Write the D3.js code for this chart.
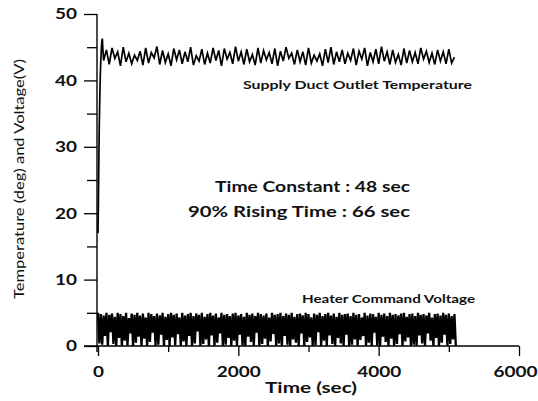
<!DOCTYPE html>
<html>
<head>
<meta charset="utf-8">
<script src="https://cdn.jsdelivr.net/npm/d3@7"></script>
<style>
  body { margin: 0; background: #fff; }
  svg text { font-family: "Lato", "DejaVu Sans", sans-serif; fill: #111; }
</style>
</head>
<body>
<script>
// tick labels
var yMajor = [0, 10, 20, 30, 40, 50];
var yMinor = [5, 15, 25, 35, 45];
var xMajor = [0, 2000, 4000, 6000];
var xMinor = [1000, 3000, 5000];

// supply duct outlet temperature: start-up (time, value)
var riseTime = [0, 6, 12, 18, 25, 32, 40, 48, 55, 62, 70];
var riseTemp = [17, 22, 28, 33, 37, 40.5, 43, 44.8, 45.9, 46.3, 44.6];
// then every 40 s from 80 s
var steadyStart = 80, steadyStep = 40;
var steadyTemp = [
  43.0,44.6,42.4,44.9,43.3,44.3,42.2,45.0,42.8,44.1,
  42.5,43.8,43.0,44.4,42.3,44.9,42.6,44.2,43.4,45.1,
  42.4,44.5,42.7,44.0,42.2,44.8,43.1,44.6,42.5,44.3,
  42.8,45.0,42.3,43.7,42.9,44.7,42.4,44.1,42.6,44.9,
  43.0,44.5,42.2,44.8,43.2,44.2,42.5,45.1,42.9,44.3,
  42.4,44.7,42.8,43.9,42.3,44.9,42.6,44.5,43.1,44.2,
  42.5,44.8,42.2,44.4,42.9,45.0,43.3,44.1,42.4,44.6,
  42.8,44.3,42.3,44.9,42.6,43.8,42.9,44.0,42.2,44.7,
  42.7,45.0,42.4,44.3,42.8,44.6,42.5,44.1,43.0,44.8,
  42.3,44.4,43.2,44.9,42.2,44.2,42.8,44.7,42.5,45.1,
  42.9,44.3,42.4,44.6,42.7,43.9,42.3,44.8,42.6,44.5,
  42.8,44.2,42.5,44.9,43.2,44.4,42.7,44.1,42.4,44.6,
  42.9,44.3,42.5,44.7,42.6,43.5
];

// heater command voltage, every 20 s from 0 s
var heaterStep = 20;
var heater = [
  5,0.4,4.8,0.2,4.6,1.5,5,0,4.7,2.1,4.9,0.3,4.4,0,5,1.2,
  4.8,0,4.5,0.8,5,0.1,4.2,1.9,4.9,0,4.7,0.5,5,1.4,4.6,0,
  4.9,1.1,4.3,0,5,0.6,4.8,2.0,4.5,0,4.9,0.2,4.6,1.7,5,0,
  4.4,0.9,4.8,0,5,1.3,4.7,0.1,4.9,1.8,4.3,0,5,0.7,4.6,0,
  4.8,1.5,5,0,4.5,0.4,4.9,2.2,4.7,0,5,0.3,4.4,1.0,4.8,0,
  5,1.6,4.6,0,4.9,0.5,4.3,1.9,5,0,4.7,0.2,4.8,1.2,4.5,0,
  4.9,0.8,5,0,4.6,1.7,4.8,0.1,4.4,0,5,1.4,4.7,0.6,4.9,0,
  4.5,2.0,5,0,4.8,0.3,4.6,1.1,4.9,0,4.3,0.7,5,1.8,4.7,0,
  4.8,0.4,5,0,4.5,1.5,4.9,0.2,4.7,0,5,1.0,4.4,0.5,4.8,0,
  4.9,1.9,4.6,0,5,0.6,4.8,1.3,4.3,0,4.9,0.1,4.7,2.1,5,0,
  4.5,0.8,4.8,0,5,1.6,4.6,0.3,4.9,0,4.4,1.2,5,0.4,4.7,0,
  4.8,1.7,4.9,0,4.5,0.2,5,1.0,4.7,0,4.8,0.9,4.3,1.5,5,0,
  4.6,0.5,4.9,0,4.8,2.0,4.4,0.1,5,0,4.7,1.4,4.9,0.6,4.5,0,
  5,1.1,4.7,0,4.8,0.3,4.6,1.8,4.9,0,5,0.7,4.4,1.3,4.8,0,
  4.9,0.2,4.5,0,5,1.6,4.7,0.4,4.8,0,4.6,1.9,5,0.8,4.3,0,
  4.8,1.2,4.9,0,4.6,0.5,5,1.7,4.7,0,4.9,0.3,4.5,1.0,4.8,0
];

var width = 538, height = 401;

var svg = d3.select("body").append("svg")
    .attr("width", width)
    .attr("height", height);

var x = d3.scaleLinear().domain([0, 6000]).range([98, 519]);
var y = d3.scaleLinear().domain([0, 50]).range([346, 14]);

// build series
var tempData = riseTime.map(function(t, i) { return [t, riseTemp[i]]; });
steadyTemp.forEach(function(v, i) { tempData.push([steadyStart + i * steadyStep, v]); });
var heaterData = heater.map(function(v, i) { return [i * heaterStep, v]; });

var line = d3.line()
    .x(function(d) { return x(d[0]); })
    .y(function(d) { return y(d[1]); });

svg.append("path")
    .datum(heaterData)
    .attr("fill", "none")
    .attr("stroke", "#000")
    .attr("stroke-width", 2.3)
    .attr("d", line);

svg.append("path")
    .datum(tempData)
    .attr("fill", "none")
    .attr("stroke", "#000")
    .attr("stroke-width", 1.7)
    .attr("d", line);

// y axis
var yAxis = svg.append("g").attr("transform", "translate(97,0)");
yAxis.call(d3.axisLeft(y).tickValues(yMajor).tickSize(13).tickSizeOuter(0).tickPadding(7).tickFormat(d3.format("d")));
yAxis.append("g").call(d3.axisLeft(y).tickValues(yMinor).tickSize(10).tickSizeOuter(0).tickFormat(""));
yAxis.selectAll(".domain").remove();
yAxis.append("line").attr("x1", 0).attr("x2", 0).attr("y1", y(50)).attr("y2", y(0) + 6)
    .attr("stroke", "#000").attr("stroke-width", 1.4);

// x axis
var xAxis = svg.append("g").attr("transform", "translate(0,346)");
xAxis.call(d3.axisBottom(x).tickValues(xMajor).tickSize(10).tickSizeOuter(0).tickPadding(10).tickFormat(d3.format("d")));
xAxis.append("g").call(d3.axisBottom(x).tickValues(xMinor).tickSize(6).tickSizeOuter(0).tickFormat(""));
xAxis.selectAll(".domain").remove();
xAxis.append("line").attr("x1", 84).attr("x2", x(6000)).attr("y1", 0).attr("y2", 0)
    .attr("stroke", "#000").attr("stroke-width", 1.4);

svg.selectAll(".tick line").attr("stroke", "#000").attr("stroke-width", 1.3);
svg.selectAll(".tick text")
    .style("font-family", "Lato, sans-serif")
    .style("font-size", "15px")
    .style("font-weight", "bold")
    .attr("fill", "#111")
    .attr("lengthAdjust", "spacingAndGlyphs")
    .attr("textLength", function() { return this.textContent.length * 11; });
// last x label sits against the right edge
xAxis.selectAll(".tick text").filter(function(d) { return d === 6000; })
    .attr("text-anchor", "end").attr("x", 537 - x(6000));

function label(tx, ty, str, size, len, anchor) {
  return svg.append("text")
      .attr("x", tx).attr("y", ty)
      .attr("text-anchor", anchor || "start")
      .style("font-size", size + "px").style("font-weight", "bold")
      .attr("lengthAdjust", "spacingAndGlyphs")
      .attr("textLength", len)
      .text(str);
}

// axis titles
label(311, 393, "Time (sec)", 16, 92, "middle");

svg.append("text")
    .attr("transform", "translate(24,179) rotate(-90)")
    .attr("text-anchor", "middle")
    .style("font-size", "13px")
    .attr("lengthAdjust", "spacingAndGlyphs")
    .attr("textLength", 240)
    .text("Temperature (deg) and Voltage(V)");

// annotations
label(243, 89, "Supply Duct Outlet Temperature", 12, 229);
label(302, 303, "Heater Command Voltage", 12, 173);
label(215, 192, "Time Constant : 48 sec", 15, 195);
label(188, 217, "90% Rising Time : 66 sec", 15, 222);
</script>
</body>
</html>
